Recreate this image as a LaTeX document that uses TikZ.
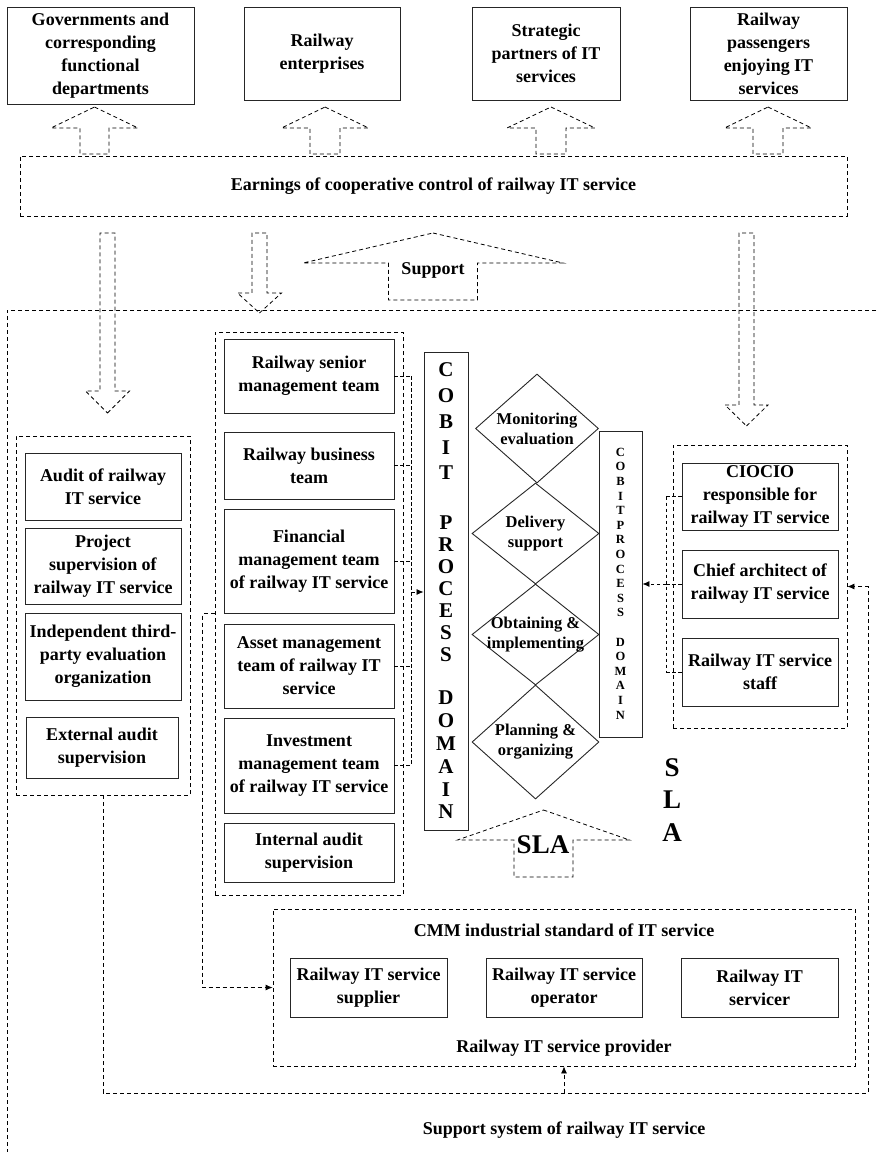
\documentclass[tikz,border=0pt]{standalone}
\usepackage{fontspec}
\setmainfont{Liberation Serif}
\usetikzlibrary{shapes.geometric,arrows.meta}

% hollow block arrows: tip x, tip y, head half-width, head height, shaft half-width, shaft end y
\newcommand\hollowup[6]{\draw[dsh] (#1,#2) -- ({#1+#3},{#2+#4}) -- ({#1+#5},{#2+#4}) -- ({#1+#5},#6) -- ({#1-#5},#6) -- ({#1-#5},{#2+#4}) -- ({#1-#3},{#2+#4}) -- cycle;}
\newcommand\hollowdown[6]{\draw[dsh] (#1,#2) -- ({#1+#3},{#2-#4}) -- ({#1+#5},{#2-#4}) -- ({#1+#5},#6) -- ({#1-#5},#6) -- ({#1-#5},{#2-#4}) -- ({#1-#3},{#2-#4}) -- cycle;}

\begin{document}
\begin{tikzpicture}[x=1pt,y=-1pt,
  every node/.style={font=\bfseries\fontsize{18}{23}\selectfont, align=center, inner sep=0pt},
  dsh/.style={line width=0.8pt, dash pattern=on 4pt off 3pt},
  conn/.style={line width=0.8pt, dash pattern=on 3.5pt off 2.5pt},
  tip/.style={-{Latex[length=7pt,width=6pt]}},
  box/.style={draw=black!85, line width=0.9pt},
  grp/.style={draw, dsh},
  dia/.style={draw=black!85, line width=0.9pt, shape=diamond},
  diatext/.style={font=\bfseries\fontsize{16.5}{20}\selectfont},
]
\useasboundingbox (0,0) rectangle (876,1155);

% ---------- stakeholders ----------
\node[box, minimum width=187pt, minimum height=97pt] (gov) at (100.5,55.5) {Governments and\\corresponding\\functional\\departments};
\node[box, minimum width=156pt, minimum height=93pt] (ent) at (322,53.5) {Railway\\enterprises};
\node[box, minimum width=148pt, minimum height=93pt] (str) at (546,53.5) {Strategic\\partners of IT\\services};
\node[box, minimum width=157pt, minimum height=93pt] (pas) at (768.5,53.5) {Railway\\passengers\\enjoying IT\\services};

\hollowup{94.5}{107}{43.5}{21}{14.5}{154}
\hollowup{325}{107}{43.5}{21}{15}{154}
\hollowup{551}{107}{44}{21}{15}{154}
\hollowup{768}{107}{43.5}{21}{15}{154}

\node[grp, minimum width=827pt, minimum height=60pt] (earn) at (433.5,186) {Earnings of cooperative control of railway IT service};

% ---------- arrows into the support system ----------
\hollowdown{107.5}{413}{22}{22}{7.5}{233}
\hollowdown{259.5}{313}{22}{20}{7.5}{233}
\hollowdown{746.5}{426}{21.5}{21}{7.5}{233}
\hollowup{433}{233}{130}{30}{44.5}{300}
\node (support) at (433,270) {Support};

% ---------- support system frame ----------
\draw[dsh] (876,310) -- (7,310) -- (7,1152);
\node (suppsys) at (564,1130) {Support system of railway IT service};

% ---------- supervision group ----------
\node[grp, minimum width=174pt, minimum height=359pt] (lg) at (103,615.5) {};
\node[box, minimum width=156pt, minimum height=67pt] (a1) at (103,486.5) {Audit of railway\\IT service};
\node[box, minimum width=156pt, minimum height=76pt] (a2) at (103,566) {Project\\supervision of\\railway IT service};
\node[box, minimum width=156pt, minimum height=87pt] (a3) at (103,656.5) {Independent third-\\party evaluation\\organization};
\node[box, minimum width=152pt, minimum height=61pt] (a4) at (102,747.5) {External audit\\supervision};

% ---------- management group ----------
\node[grp, minimum width=188pt, minimum height=563pt] (mg) at (309,613.5) {};
\node[box, minimum width=170pt, minimum height=74pt] (m1) at (309,376) {Railway senior\\management team};
\node[box, minimum width=170pt, minimum height=67pt] (m2) at (309,465.5) {Railway business\\team};
\node[box, minimum width=170pt, minimum height=104pt] (m3) at (309,561) {Financial\\management team\\of railway IT service};
\node[box, minimum width=170pt, minimum height=84pt] (m4) at (309,666) {Asset management\\team of railway IT\\service};
\node[box, minimum width=170pt, minimum height=95pt] (m5) at (309,765.5) {Investment\\management team\\of railway IT service};
\node[box, minimum width=170pt, minimum height=59pt] (m6) at (309,852.5) {Internal audit\\supervision};

% ---------- COBIT process domain ----------
\node[box, minimum width=44pt, minimum height=478pt] (cobit) at (446,591) {};
\node[font=\bfseries\fontsize{21}{25.75}\selectfont] (cobitA) at (446,421.5) {C\\O\\B\\I\\T};
\node[font=\bfseries\fontsize{21}{22}\selectfont] (cobitB) at (446,589) {P\\R\\O\\C\\E\\S\\S};
\node[font=\bfseries\fontsize{21}{22.8}\selectfont] (cobitC) at (446,755) {D\\O\\M\\A\\I\\N};

\node[dia, minimum width=123pt, minimum height=109pt] (d1) at (537,428.5) {};
\node[dia, minimum width=127pt, minimum height=101pt] (d2) at (535.5,533.5) {};
\node[dia, minimum width=127pt, minimum height=101pt] (d3) at (535.5,634.5) {};
\node[dia, minimum width=127pt, minimum height=114pt] (d4) at (535.5,742) {};
\node[diatext] at (d1) {Monitoring\\evaluation};
\node[diatext] at (d2) {Delivery\\support};
\node[diatext] at (d3) {Obtaining \&\\implementing};
\node[diatext] at (d4) {Planning \&\\organizing};

\node[box, minimum width=43pt, minimum height=306pt] (cobit2) at (620.5,584) {};
\node[font=\bfseries\fontsize{12.5}{14.6}\selectfont] (cobit2t) at (620.5,583.5) {C\\O\\B\\I\\T\\P\\R\\O\\C\\E\\S\\S\\[14.6pt]D\\O\\M\\A\\I\\N};

% ---------- SLA ----------
\hollowup{543.5}{810}{86}{30}{29.5}{877}
\node[font=\bfseries\fontsize{27}{32}\selectfont] (slaarrow) at (543,845) {SLA};
\node[font=\bfseries\fontsize{27}{32.5}\selectfont] (slaside) at (672,800) {S\\L\\A};

% ---------- IT staff group ----------
\node[grp, minimum width=174pt, minimum height=283pt] (rg) at (760,586.5) {};
\node[box, minimum width=156pt, minimum height=67pt] (r1) at (760,496.5) {CIOCIO\\responsible for\\railway IT service};
\node[box, minimum width=156pt, minimum height=68pt] (r2) at (760,584) {Chief architect of\\railway IT service};
\node[box, minimum width=156pt, minimum height=68pt] (r3) at (760,672) {Railway IT service\\staff};

% ---------- provider group ----------
\node[grp, minimum width=582pt, minimum height=157pt] (cmm) at (564,987.5) {};
\node (cmmtitle) at (564,930) {CMM industrial standard of IT service};
\node (provider) at (564,1048) {Railway IT service provider};
\node[box, minimum width=157pt, minimum height=59pt] (s1) at (368.5,987.5) {Railway IT service\\supplier};
\node[box, minimum width=156pt, minimum height=59pt] (s2) at (564,987.5) {Railway IT service\\operator};
\node[box, minimum width=157pt, minimum height=59pt] (s3) at (759.5,987.5) {Railway IT\\servicer};

% ---------- connectors ----------
\coordinate (mbus) at (411,592);
\foreach \m in {m1,m2,m3,m4,m5} {\draw[conn] (\m.east) -- (\m.east -| mbus);}
\draw[conn] (m1.east -| mbus) -- (m5.east -| mbus);
\draw[conn, tip] (mbus) -- (mbus -| cobit.west);

\coordinate (rbus) at (666,584);
\foreach \r in {r1,r2,r3} {\draw[conn] (\r.west) -- (\r.west -| rbus);}
\draw[conn] (r1.west -| rbus) -- (r3.west -| rbus);
\draw[conn, tip] (rbus) -- (cobit2.east);

\draw[dsh, tip] (mg.west) -- ++(-12,0) |- (cmm.west);

\coordinate (loopSE) at (868,1093);
\draw[dsh, tip] (lg.south) |- (loopSE) |- (rg.east);
\draw[dsh, tip] (cmm.south |- loopSE) -- (cmm.south);
\end{tikzpicture}
\end{document}
